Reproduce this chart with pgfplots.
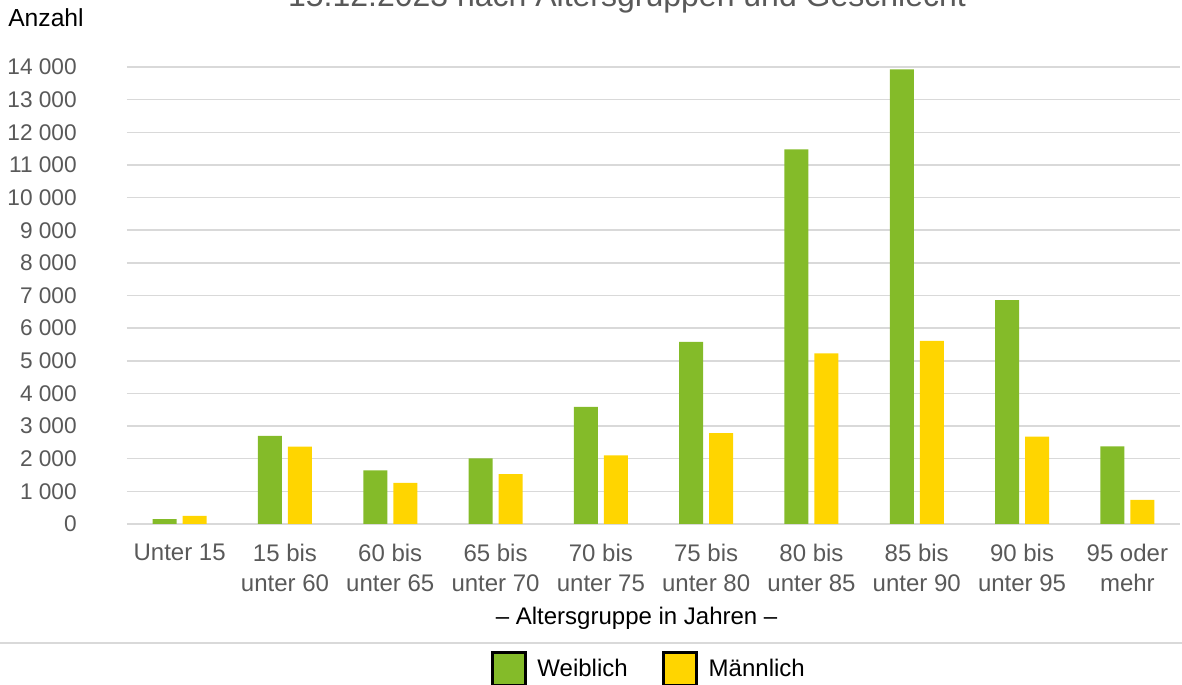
\documentclass[border=0pt]{standalone}
\usepackage{pgfplots}
\pgfplotsset{compat=1.18}
\usepackage{fontspec}
\setmainfont{Liberation Sans}
\definecolor{grn}{RGB}{132,187,41}
\definecolor{yel}{RGB}{255,213,0}
\definecolor{txt}{RGB}{89,89,89}
\definecolor{grd}{RGB}{217,217,217}
\begin{document}
\begin{tikzpicture}
\useasboundingbox (0,0) rectangle (886.5pt,513.75pt);
\node[anchor=base, text=txt, font=\fontsize{24}{28}\selectfont] at (470.25pt,508.5pt) {15.12.2023 nach Altersgruppen und Geschlecht};
\node[anchor=base west, inner sep=0pt, font=\fontsize{18.5}{21}\selectfont] at (6pt,493.5pt) {Anzahl};
\draw[grd, line width=1pt] (0pt,31.5pt) -- (886.5pt,31.5pt);
\begin{axis}[
  at={(95.25pt,120.75pt)}, anchor=south west,
  scale only axis, width=789.75pt, height=342.75pt,
  ybar=4.5pt, bar width=18pt,
  xmin=-0.5, xmax=9.5, ymin=0, ymax=14000,
  clip=false,
  scaled y ticks=false,
  axis line style={draw=none},
  major tick length=0pt,
  ymajorgrids, grid style={draw=grd, line width=1.1pt},
  ytick={0,1000,2000,3000,4000,5000,6000,7000,8000,9000,10000,11000,12000,13000,14000},
  yticklabels={0,1 000,2 000,3 000,4 000,5 000,6 000,7 000,8 000,9 000,10 000,11 000,12 000,13 000,14 000},
  yticklabel style={anchor=east, inner sep=0pt, xshift=-37.5pt, text=txt, font=\fontsize{17}{20}\selectfont},
  xtick={0,1,2,3,4,5,6,7,8,9},
  xticklabels={Unter 15,{15 bis\\unter 60},{60 bis\\unter 65},{65 bis\\unter 70},{70 bis\\unter 75},{75 bis\\unter 80},{80 bis\\unter 85},{85 bis\\unter 90},{90 bis\\unter 95},{95 oder\\mehr}},
  xticklabel style={anchor=north, inner sep=0pt, yshift=-15pt, align=center, text=txt, font=\fontsize{18}{22.5}\selectfont},
  xlabel={– Altersgruppe in Jahren –},
  xlabel style={at={(axis description cs:0.484,-0.221)}, anchor=base, inner sep=0pt, font=\fontsize{18}{21}\selectfont},
  legend columns=2,
  legend style={at={(axis description cs:0.496,-0.317)}, anchor=center, draw=none, fill=none,
    font=\fontsize{18}{21}\selectfont,
    /tikz/every odd column/.append style={column sep=6pt},
    /tikz/every even column/.append style={column sep=24pt}},
  legend image code/.code={\draw[#1,draw=black,line width=2.25pt] (0pt,-12.25pt) rectangle (24.5pt,12.25pt);},
]
\addplot[fill=grn, draw=none] coordinates {(0,150) (1,2700) (2,1640) (3,2010) (4,3590) (5,5580) (6,11480) (7,13930) (8,6860) (9,2380)};
\addplot[fill=yel, draw=none] coordinates {(0,250) (1,2370) (2,1260) (3,1530) (4,2100) (5,2780) (6,5230) (7,5610) (8,2680) (9,740)};
\legend{Weiblich,Männlich}
\end{axis}
\end{tikzpicture}
\end{document}
